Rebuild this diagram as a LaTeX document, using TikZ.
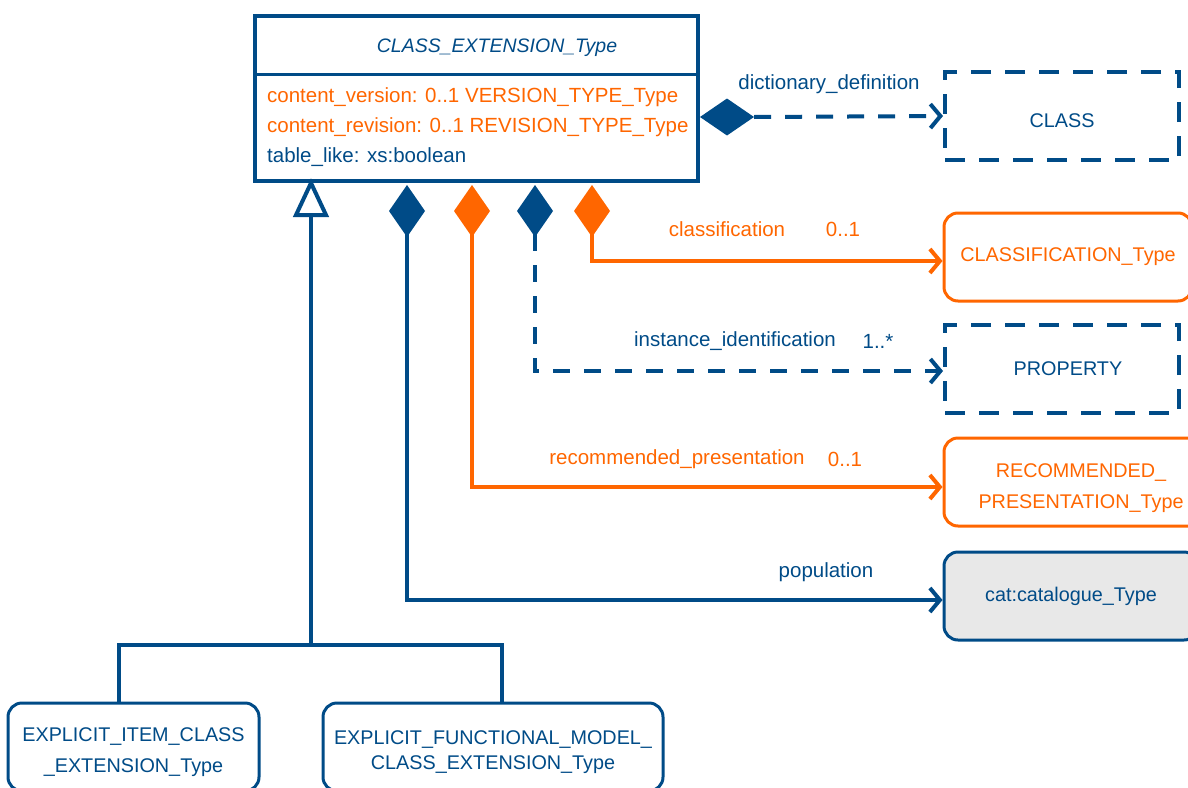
\documentclass[tikz,border=0pt]{standalone}
\usepackage{fontspec}
\setmainfont{Liberation Sans}
\usetikzlibrary{arrows.meta,shapes.geometric,calc}
\definecolor{ublue}{RGB}{0,75,135}
\definecolor{uorange}{RGB}{255,102,0}
\definecolor{ugray}{RGB}{232,232,232}
\begin{document}
\begin{tikzpicture}[x=1pt,y=-1pt,
  every node/.style={font=\fontsize{20.5}{27}\selectfont},
  classbox/.style={draw=ublue, line width=3pt, rounded corners=14pt, text=ublue, align=center, minimum height=88pt, font=\fontsize{19.8}{26}\selectfont},
  orangebox/.style={classbox, draw=uorange, text=uorange},
  greybox/.style={classbox, fill=ugray},
  dashbox/.style={draw=ublue, line width=4pt, dash pattern=on 20pt off 14pt, text=ublue, align=center, minimum height=88pt, font=\fontsize{19.8}{26}\selectfont},
  vdia/.style={diamond, inner sep=0pt, outer sep=0pt, minimum width=36pt, minimum height=52pt},
  hdia/.style={diamond, inner sep=0pt, outer sep=0pt, minimum width=54pt, minimum height=37pt},
  tipb/.style={-{Straight Barb[length=10pt,width=24pt]}},
  bluelink/.style={draw=ublue, line width=4pt, tipb},
  orangelink/.style={draw=uorange, line width=4pt, tipb},
  dashlink/.style={bluelink, dash pattern=on 17pt off 14pt},
  blabel/.style={text=ublue},
  olabel/.style={text=uorange},
  attr/.style={anchor=west, inner sep=0pt}
]
\useasboundingbox (0,0) rectangle (1188,787);
\clip (0,0) rectangle (1188,787);

% main class with its two compartments
\node[draw=ublue, line width=4pt, fill=white, minimum width=443pt, minimum height=165pt, inner sep=0pt] (main) at (476.5,98.5) {};
\draw[ublue, line width=3pt] (main.west |- 0,74) coordinate (divl) -- (main.east |- divl);
\node[blabel, font=\fontsize{19.5}{25}\selectfont\itshape] (title) at (497,48) {CLASS\_EXTENSION\_Type};
\node[attr, olabel] (a1) at (267,97) {content\_version: 0..1 VERSION\_TYPE\_Type};
\node[attr, olabel] (a2) at (267,127) {content\_revision: 0..1 REVISION\_TYPE\_Type};
\node[attr, blabel] (a3) at (267,157) {table\_like: xs:boolean};

% related classes on the right
\node[dashbox, minimum width=234pt] (class) at (1062,116) {\rule{0pt}{23pt}CLASS};
\node[orangebox, minimum width=248pt] (classif) at (1068,257) {CLASSIFICATION\_Type};
\node[dashbox, minimum width=234pt, minimum height=88pt] (prop) at (1062,369) {\hspace*{12pt}PROPERTY};
\node[orangebox, minimum width=274pt] (rec) at (1081,482) {\rule{0pt}{27pt}RECOMMENDED\_\\[5pt]PRESENTATION\_Type};
\node[greybox, minimum width=254pt] (cat) at (1071,596) {cat:catalogue\_Type};

% subclasses
\node[classbox, minimum width=251pt] (item) at (133.5,747) {\rule{0pt}{25pt}EXPLICIT\_ITEM\_CLASS\\[5pt]\_EXTENSION\_Type};
\node[classbox, minimum width=340pt] (func) at (493,747) {\rule{0pt}{25pt}EXPLICIT\_FUNCTIONAL\_MODEL\_\\[-1pt]CLASS\_EXTENSION\_Type};

% composition diamonds
\node[vdia, fill=ublue] (d1) at (407,211) {};
\node[vdia, fill=uorange] (d2) at (472,211) {};
\node[vdia, fill=ublue] (d3) at (535,211) {};
\node[vdia, fill=uorange] (d4) at (592,211) {};
\node[hdia, fill=ublue] (d5) at (727,117) {};

% associations
\draw[dashlink] (d5.east) -- (class.west);
\draw[orangelink] ($(d4.south)+(0,-3)$) |- ($(classif.west)+(0,4)$);
\draw[dashlink] ($(d3.south)+(0,-3)$) |- ($(prop.west)+(0,2)$);
\draw[orangelink] ($(d2.south)+(0,-3)$) |- ($(rec.west)+(0,5)$);
\draw[bluelink] ($(d1.south)+(0,-3)$) |- ($(cat.west)+(0,4)$);

% association labels
\node[blabel] (l1) at (829,84) {dictionary\_definition};
\node[olabel] (l2) at (727,229) {classification};
\node[olabel] (l2m) at (843,229) {0..1};
\node[blabel] (l3) at (735,341) {instance\_identification};
\node[blabel] (l3m) at (878,341) {1..*};
\node[olabel] (l4) at (677,459) {recommended\_presentation};
\node[olabel] (l4m) at (845,459) {0..1};
\node[blabel] (l5) at (826,572) {population};

% generalization
\coordinate (gtip) at (main.south -| 311,0);
\coordinate (gbase) at ($(gtip)+(0,32)$);
\coordinate (gjoin) at (311,645);
\draw[ublue, line width=4pt, line join=miter] (gtip) -- ++(-15,32) -- ++(30,0) -- cycle;
\draw[ublue, line width=4pt] (gbase) -- (gjoin);
\draw[ublue, line width=4pt] ($(item.north)+(-14.5,0)$) |- (gjoin) -| ($(func.north)+(9,0)$);
\end{tikzpicture}
\end{document}
